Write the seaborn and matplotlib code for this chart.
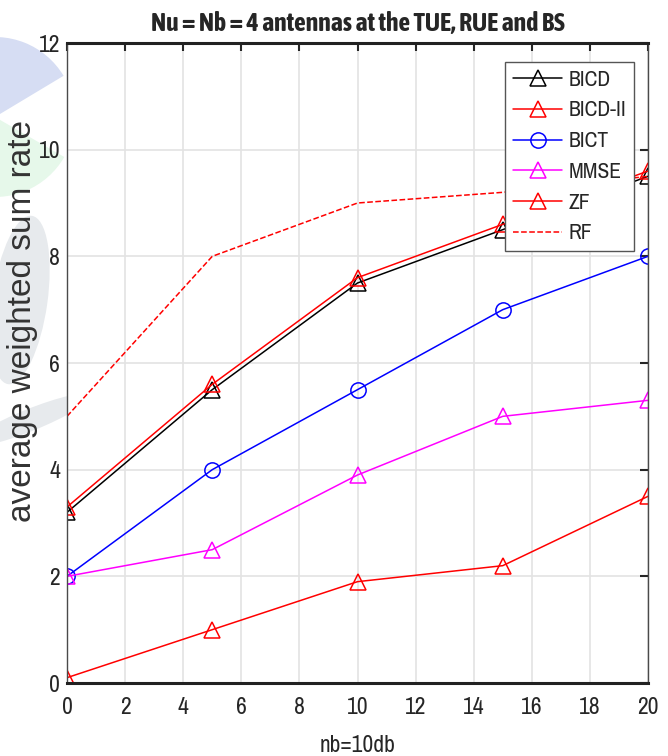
import matplotlib
matplotlib.use("Agg")
import matplotlib.pyplot as plt
import seaborn as sns
import pandas as pd
from matplotlib.patches import Wedge, Ellipse

x = [0, 5, 10, 15, 20]
bicd = [3.2, 5.5, 7.5, 8.5, 9.5]
bicd2 = [3.3, 5.6, 7.6, 8.6, 9.6]
bict = [2.0, 4.0, 5.5, 7.0, 8.0]
mmse = [2.0, 2.5, 3.9, 5.0, 5.3]
zf = [0.1, 1.0, 1.9, 2.2, 3.5]
rf = [5.0, 8.0, 9.0, 9.2, 9.5]
names = ["BICD", "BICD-II", "BICT", "MMSE", "ZF", "RF"]
xticks = list(range(0, 21, 2))
yticks = list(range(0, 13, 2))

sns.set_style("white")
NARROW = ['Archivo Narrow', 'Liberation Sans', 'DejaVu Sans']
plt.rcParams['font.family'] = NARROW

W, H = 668, 756
fig = plt.figure(figsize=(W / 100, H / 100), dpi=100)
tr = fig.dpi_scale_trans


def P(px, py):
    return (px / 100, (H - py) / 100)


# faint background watermark (figure level, behind axes)
for patch in [
    Wedge(P(-5, 117), 0.80, 31, 180, facecolor="#d6ddf3"),
    Wedge(P(-5, 117), 0.80, 180, 330, facecolor="#e6f8ea"),
    Ellipse(P(20, 300), 0.55, 1.7, angle=-8, facecolor="#e7eaed"),
    Ellipse(P(30, 420), 1.3, 0.22, angle=22, facecolor="#e7eaed"),
]:
    patch.set_transform(tr)
    patch.set_edgecolor("none")
    patch.set_zorder(-5)
    fig.patches.append(patch)

ax = fig.add_axes([67 / W, 1 - 683 / H, 581 / W, 640 / H])
ax.set_facecolor("white")

styles = [
    dict(color="black", marker="^", ls="-"),
    dict(color="red", marker="^", ls="-"),
    dict(color="blue", marker="o", ls="-"),
    dict(color="magenta", marker="^", ls="-"),
    dict(color="red", marker="^", ls="-"),
    dict(color="red", marker=None, ls="--"),
]
series = [bicd, bicd2, bict, mmse, zf, rf]
for name, ys, st in zip(names, series, styles):
    df = pd.DataFrame({"x": x, "y": ys})
    kw = dict(color=st["color"], linestyle=st["ls"], linewidth=1.1, label=name)
    if st["marker"]:
        kw.update(marker=st["marker"], markersize=12 if st["marker"] == "^" else 11,
                  markerfacecolor="none", markeredgecolor=st["color"], markeredgewidth=1.1)
    else:
        kw.update(dashes=(7, 5))
    sns.lineplot(data=df, x="x", y="y", ax=ax, **kw)

ax.set_xlim(0, 20)
ax.set_ylim(0, 12)
ax.set_xticks(xticks)
ax.set_yticks(yticks)
ax.tick_params(direction="in", top=True, right=True, length=6, width=1.5, labelsize=17, colors="#262626")
ax.tick_params(axis="x", pad=10)
ax.tick_params(axis="y", pad=5)
ax.grid(True, color="#e3e3e3", linewidth=1.2)
ax.set_axisbelow(True)
for k, s in ax.spines.items():
    if k in ("top", "bottom"):
        s.set_color("#222222")
        s.set_linewidth(2.2)
    else:
        s.set_color("#4a4a4a")
        s.set_linewidth(1.0)
ax.set_xlabel("nb=10db", fontsize=17, color="#262626", labelpad=12)
ax.set_ylabel("average weighted sum rate", fontsize=24, color="#333333",
              family=['Liberation Sans', 'DejaVu Sans'])
ax.yaxis.set_label_coords((38 - 67) / 581, (683 - 321) / 640)
ax.set_title("Nu = Nb = 4 antennas at the TUE, RUE and BS", fontsize=18.5, fontweight="bold",
             family=['Asap Condensed', 'Archivo Narrow', 'Liberation Sans'], pad=9)

leg = ax.legend(loc="upper right", bbox_to_anchor=((634 - 67) / 581, (683 - 62) / 640), fontsize=15.5,
                handlelength=2.3, handletextpad=0.3, framealpha=1.0, borderaxespad=0,
                frameon=True, fancybox=False, edgecolor="#555555", borderpad=0.35, labelspacing=0.5)
leg.get_frame().set_linewidth(1.0)

fig.savefig("out.png", dpi=100)
